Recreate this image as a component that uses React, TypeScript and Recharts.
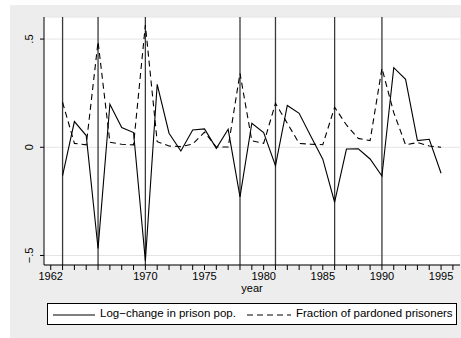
import {
  ComposedChart,
  Line,
  XAxis,
  YAxis,
  CartesianGrid,
  ReferenceLine,
} from "recharts";

const years = [
  1963, 1964, 1965, 1966, 1967, 1968, 1969, 1970, 1971, 1972, 1973, 1974, 1975,
  1976, 1977, 1978, 1979, 1980, 1981, 1982, 1983, 1984, 1985, 1986, 1987, 1988,
  1989, 1990, 1991, 1992, 1993, 1994, 1995,
];

const logChange = [
  -0.131, 0.119, 0.054, -0.468, 0.199, 0.091, 0.068, -0.525, 0.291, 0.065,
  -0.017, 0.08, 0.085, -0.005, 0.083, -0.229, 0.111, 0.068, -0.085, 0.193,
  0.157, 0.05, -0.055, -0.254, -0.008, -0.007, -0.054, -0.133, 0.368, 0.314,
  0.031, 0.037, -0.12,
];

const pardoned = [
  0.208, 0.018, 0.011, 0.488, 0.023, 0.014, 0.011, 0.565, 0.026, 0.006, 0.003,
  0.015, 0.07, 0.001, 0.001, 0.342, 0.03, 0.018, 0.203, 0.111, 0.018, 0.014,
  0.012, 0.185, 0.103, 0.041, 0.031, 0.365, 0.16, 0.011, 0.022, 0.006, 0.0,
];

const amnestyYears = [1963, 1966, 1970, 1978, 1981, 1986, 1990];

const xTicks = Array.from({ length: 35 }, (_, i) => 1962 + i);
const xLabels = [1962, 1970, 1975, 1980, 1985, 1990, 1995];
const yTicks = [-0.5, 0, 0.5];

const FONT = '"Liberation Sans", Arial, Helvetica, sans-serif';

const data = years.map((year, i) => ({
  year,
  logChange: logChange[i],
  pardoned: pardoned[i],
}));

function formatY(v: number) {
  if (v === 0) return "0";
  const s = Math.abs(v).toString().replace(/^0/, "");
  return v < 0 ? `\u2212${s}` : s;
}

function YTick(props: any) {
  const { y, payload } = props;
  return (
    <text
      transform={`translate(29, ${y}) rotate(-90)`}
      textAnchor="middle"
      dominantBaseline="central"
      fontSize={11}
      fontFamily={FONT}
      fill="#000"
    >
      {formatY(payload.value)}
    </text>
  );
}

export default function App() {
  return (
    <div
      style={{
        position: "absolute",
        left: 0,
        top: 0,
        width: 461,
        height: 338,
        background: "#fff",
        fontFamily: FONT,
      }}
    >
      <div
        style={{
          position: "absolute",
          left: 10,
          top: 5,
          width: 451,
          height: 333,
          background: "#ededed",
        }}
      />
      <div style={{ position: "absolute", left: 0, top: 0 }}>
        <ComposedChart
          width={461}
          height={338}
          data={data}
          margin={{ top: 17, right: 1, left: 10, bottom: 41 }}
        >
          <CartesianGrid
            vertical={false}
            stroke="#e4e4e4"
            fill="#ffffff"
            fillOpacity={1}
          />
          <XAxis
            dataKey="year"
            type="number"
            domain={[1961.43, 1996.6]}
            allowDataOverflow
            ticks={xTicks}
            interval={0}
            tickFormatter={(v: number) => (xLabels.includes(v) ? String(v) : "")}
            tick={{ fontSize: 11, fill: "#000", fontFamily: FONT }}
            tickSize={5}
            tickMargin={2}
            stroke="#000"
            height={32}
            label={{
              value: "year",
              position: "insideBottom",
              offset: 5,
              fontSize: 11,
              fill: "#000",
              fontFamily: FONT,
            }}
          />
          <YAxis
            type="number"
            domain={[-0.544, 0.602]}
            allowDataOverflow
            ticks={yTicks}
            interval={0}
            tick={<YTick />}
            tickSize={4}
            stroke="#000"
            width={34}
          />
          {amnestyYears.map((yr) => (
            <ReferenceLine key={yr} x={yr} stroke="#3a3a3a" strokeWidth={1.3} />
          ))}
          <Line
            type="linear"
            dataKey="logChange"
            stroke="#000"
            strokeWidth={1.1}
            dot={false}
            isAnimationActive={false}
          />
          <Line
            type="linear"
            dataKey="pardoned"
            stroke="#000"
            strokeWidth={1.1}
            strokeDasharray="6 4"
            dot={false}
            isAnimationActive={false}
          />
        </ComposedChart>
      </div>
      <div
        style={{
          position: "absolute",
          left: 47,
          top: 303,
          width: 410,
          height: 22,
          boxSizing: "border-box",
          border: "1px solid #000",
          background: "#fff",
          fontSize: 11.5,
          color: "#000",
        }}
      >
        <svg
          width={42}
          height={4}
          style={{ position: "absolute", left: 5, top: 9 }}
        >
          <line x1={0} y1={2} x2={42} y2={2} stroke="#000" strokeWidth={1.1} />
        </svg>
        <span style={{ position: "absolute", left: 52, top: 3, whiteSpace: "nowrap" }}>
          Log−change in prison pop.
        </span>
        <svg
          width={44}
          height={4}
          style={{ position: "absolute", left: 199, top: 9 }}
        >
          <line
            x1={0}
            y1={2}
            x2={44}
            y2={2}
            stroke="#000"
            strokeWidth={1.1}
            strokeDasharray="6 4"
          />
        </svg>
        <span style={{ position: "absolute", left: 248, top: 3, whiteSpace: "nowrap" }}>
          Fraction of pardoned prisoners
        </span>
      </div>
    </div>
  );
}
